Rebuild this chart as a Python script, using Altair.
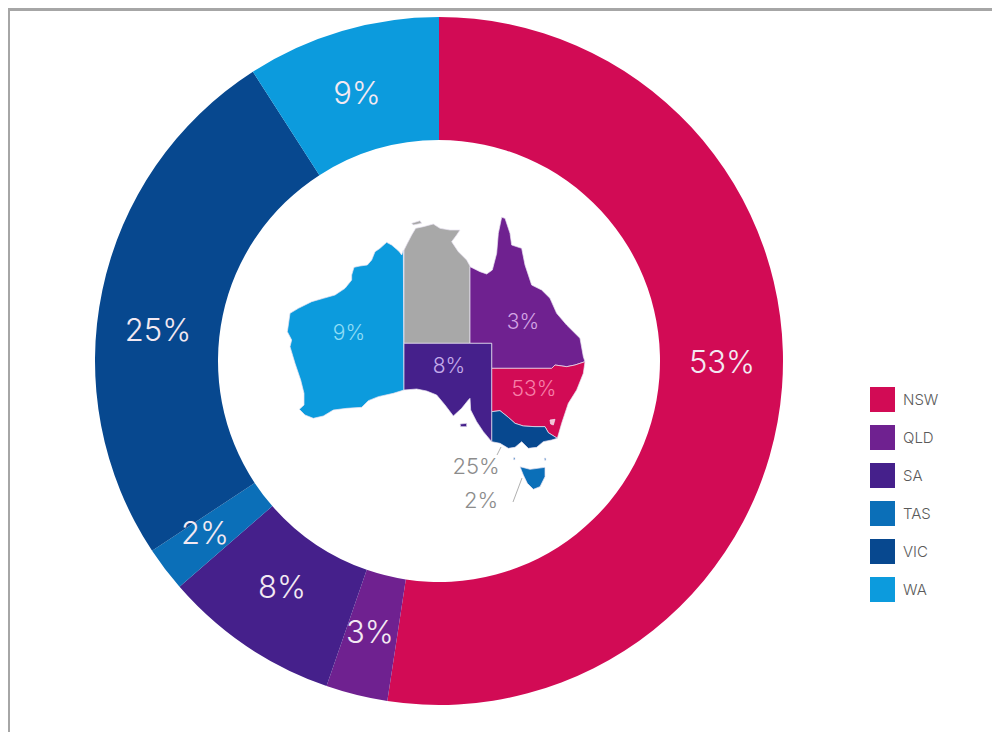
import altair as alt
import pandas as pd

# Donut segments (clockwise from 12 o'clock)
states = ["NSW", "QLD", "SA", "TAS", "VIC", "WA"]
shares = [52.4, 2.9, 8.3, 2.1, 25.2, 9.1]
labels = ["53%", "3%", "8%", "2%", "25%", "9%"]
colors = ["#D20B55", "#6F2190", "#45208B", "#0B6FB8", "#07488F", "#0C9BDD"]
grey = "#A8A8A8"

# Label anchors, in page pixels
ring_x = [722, 370, 282, 205, 158, 357]
ring_y = [364, 634, 589, 535, 332, 95]
map_label_text = ["9%", "3%", "8%", "53%"]
map_label_x = [349, 523, 449, 534]
map_label_y = [334, 323, 367, 390]
map_label_col = ["#8FDDF6", "#D3A4E4", "#C3ABEA", "#F77FA8"]
grey_label_text = ["25%", "2%"]
grey_label_x = [476, 481]
grey_label_y = [467, 501]

# Map outlines, in map units
WA = [(400,150),(395,165),(388,155),(380,148),(365,135),(350,127),(330,145),(315,155),(305,180),(292,195),(270,198),(252,202),(245,225),(245,240),(225,265),(195,285),(160,295),(125,305),(85,325),(60,340),(55,375),(52,395),(65,420),(60,440),(75,490),(92,540),(102,580),(102,615),(88,628),(105,645),(130,655),(160,648),(190,630),(230,625),(275,622),(295,602),(325,590),(370,580),(402,570)]
NT = [(402,150),(412,130),(425,105),(437,85),(460,80),(490,72),(510,85),(540,90),(570,90),(560,105),(545,125),(565,155),(590,180),(600,198),(600,430),(402,430)]
TIWI = [(425,70),(450,62),(455,70),(430,75)]
QLD = [(600,200),(630,215),(650,222),(667,210),(680,160),(685,100),(695,52),(705,55),(720,100),(725,135),(755,145),(765,195),(785,255),(815,270),(840,295),(860,340),(890,375),(930,415),(940,470),(945,485),(915,495),(890,500),(855,495),(845,505),(665,505),(665,430),(600,430)]
NSW = [(665,505),(845,505),(855,495),(890,500),(915,495),(945,485),(940,520),(920,570),(895,610),(875,670),(862,715),(835,698),(825,680),(795,680),(760,678),(735,670),(715,652),(690,632),(665,635)]
ACT = [(840,660),(855,658),(850,675),(842,672)]
VIC = [(665,635),(690,632),(715,652),(735,670),(760,678),(795,680),(825,680),(835,698),(862,715),(845,720),(820,725),(800,742),(775,745),(755,725),(735,742),(715,745),(690,730),(665,725)]
SA = [(402,430),(665,430),(665,725),(640,695),(620,665),(602,630),(600,595),(595,600),(575,625),(550,648),(525,615),(500,585),(470,573),(440,567),(402,570)]
KANGAROO = [(570,672),(590,670),(590,680),(572,680)]
TAS = [(750,800),(780,808),(825,802),(825,830),(810,860),(790,868),(772,850),(760,825)]
KING = [(731,773),(735,773),(735,779),(731,779)]
FLINDERS = [(823,774),(827,774),(828,781),(824,781)]

map_shapes = [("WA", WA), ("NT", NT), ("NT", TIWI), ("QLD", QLD), ("NSW", NSW), ("ACT", ACT),
              ("VIC", VIC), ("SA", SA), ("SA", KANGAROO), ("TAS", TAS), ("TAS", KING), ("TAS", FLINDERS)]
fill_of = dict(zip(states, colors), NT=grey, ACT="#F6C3D4")


def feature(name, ring):
    coords = [list(p) for p in ring] + [list(ring[0])]
    return {"type": "Feature",
            "geometry": {"type": "Polygon", "coordinates": [coords]},
            "properties": {"fill": fill_of[name]}}


W, H = 984, 724
X = alt.Scale(domain=[8, 8 + W], nice=False, zero=False)
Y = alt.Scale(domain=[8 + H, 8], nice=False, zero=False)
px = lambda f: alt.X(f, type="quantitative", scale=X, axis=None)
py = lambda f: alt.Y(f, type="quantitative", scale=Y, axis=None)

donut = pd.DataFrame({"state": states, "share": shares, "i": range(len(states))})
ring = alt.Chart(donut).mark_arc(radius=344, radius2=221).encode(
    theta=alt.Theta("share:Q", stack=True),
    order=alt.Order("i:Q"),
    x=alt.value(431), y=alt.value(353),
    color=alt.Color(
        "state:N",
        scale=alt.Scale(domain=states, range=colors),
        legend=alt.Legend(
            title=None, orient="none", legendX=862, legendY=379,
            symbolType="square", symbolSize=625, symbolStrokeWidth=0,
            symbolOpacity=1, labelFontSize=15, labelColor="#5A5A5A",
            labelFont="Inter", labelFontWeight=300, labelOffset=8, rowPadding=13,
        ),
    ),
)

australia = alt.Chart(
    alt.Data(values=[feature(n, r) for n, r in map_shapes])
).mark_geoshape(stroke="#E9E4F2", strokeWidth=0.7).encode(
    color=alt.Color("properties.fill:N", scale=None, legend=None)
).project(type="identity", scale=1 / 3, translate=[262, 192])

ring_labels = alt.Chart(pd.DataFrame({"t": labels, "x": ring_x, "y": ring_y})).mark_text(
    font="Inter", fontWeight=300, fontSize=31, color="#F3E9F2", baseline="middle"
).encode(x=px("x"), y=py("y"), text="t:N")

map_labels = alt.Chart(pd.DataFrame({"t": map_label_text, "x": map_label_x, "y": map_label_y, "c": map_label_col})).mark_text(
    font="Inter", fontWeight=300, fontSize=21, baseline="middle"
).encode(x=px("x"), y=py("y"), text="t:N", color=alt.Color("c:N", scale=None, legend=None))

grey_labels = alt.Chart(pd.DataFrame({"t": grey_label_text, "x": grey_label_x, "y": grey_label_y})).mark_text(
    font="Inter", fontWeight=300, fontSize=22, color="#8C8C8C", baseline="middle"
).encode(x=px("x"), y=py("y"), text="t:N")

leaders = alt.Chart(pd.DataFrame({"x": [501, 522], "x2": [497, 513], "y": [447, 478], "y2": [455, 502]})).mark_rule(
    color="#9A9A9A", strokeWidth=0.8
).encode(x=px("x"), x2="x2:Q", y=py("y"), y2="y2:Q")

frame = alt.Chart(pd.DataFrame({"x": [8, 8.5], "x2": [992, 8.5], "y": [9.5, 8], "y2": [9.5, 732]})).mark_rule(
    color="#A6A6A6", strokeWidth=3
).encode(x=px("x"), x2="x2:Q", y=py("y"), y2="y2:Q")

chart = alt.layer(frame, ring, australia, ring_labels, map_labels, grey_labels, leaders).resolve_scale(
    color="independent"
).properties(
    width=W, height=H, padding=0, autosize=alt.AutoSizeParams(type="none"),
).configure_view(stroke=None)

chart.save("out.html", embed_options={"renderer": "svg", "actions": False})
